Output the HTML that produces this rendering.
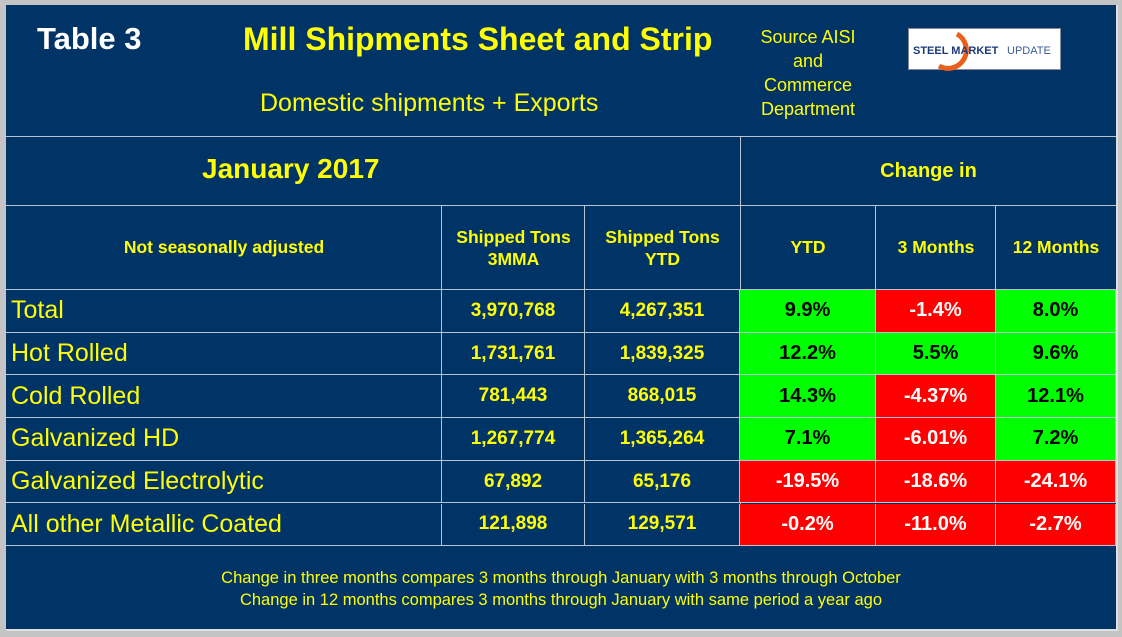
<!DOCTYPE html>
<html><head><meta charset="utf-8"><style>
body{margin:0;width:1122px;height:637px;background:#c4c4c4;position:relative;overflow:hidden;font-family:"Liberation Sans",Arial,sans-serif}
#panel{position:absolute;left:6px;top:5px;width:1110px;height:624px;background:#003366;border-right:2px solid #e0e0e0;border-bottom:2px solid #e0e0e0}
.a{position:absolute;box-sizing:border-box}
.hl{position:absolute;height:1px;background:#b8c4d4}
.vl{position:absolute;width:1px;background:#b8c4d4}
.y{color:#ffff00}
.c{display:flex;align-items:center;justify-content:center;text-align:center}
</style></head><body>
<div id="panel"></div>
<div class="a" style="left:37px;top:21px;color:#fff;font-weight:bold;font-size:31px">Table 3</div>
<div class="a y" style="left:243px;top:21px;font-weight:bold;font-size:32px;white-space:nowrap">Mill Shipments Sheet and Strip</div>
<div class="a y" style="left:260px;top:89px;font-size:25px;white-space:nowrap">Domestic shipments + Exports</div>
<div class="a y" style="left:728px;top:25px;width:160px;text-align:center;font-size:18px;line-height:24px">Source AISI<br>and<br>Commerce<br>Department</div>
<div class="a" style="left:908px;top:28px;width:153px;height:42px;background:#fff;border:1px solid #889">
<svg width="153" height="42" style="position:absolute;left:0;top:0"><path d="M48 5 A17 17 0 1 1 30 37" fill="none" stroke="#e8601c" stroke-width="5"/><text x="4" y="25" font-family="Liberation Sans" font-weight="bold" font-size="11" fill="#1b3a7a">STEEL MARKET</text><text x="98" y="25" font-family="Liberation Sans" font-size="11" fill="#3a5a9a">UPDATE</text></svg></div>
<div class="hl" style="left:6px;top:136px;width:1110px"></div>
<div class="hl" style="left:6px;top:205px;width:1110px"></div>
<div class="hl" style="left:6px;top:289px;width:1110px"></div>
<div class="vl" style="left:740px;top:136px;height:410px"></div>
<div class="vl" style="left:441px;top:205px;height:85px"></div>
<div class="vl" style="left:584px;top:205px;height:85px"></div>
<div class="vl" style="left:875px;top:205px;height:85px"></div>
<div class="vl" style="left:995px;top:205px;height:85px"></div>
<div class="a y" style="left:202px;top:153px;font-weight:bold;font-size:28px;white-space:nowrap">January 2017</div>
<div class="a y c" style="left:741px;top:137px;width:375px;height:68px;font-weight:bold;font-size:20px">Change in</div>
<div class="a y c" style="left:6px;top:206px;width:436px;height:83px;font-weight:bold;font-size:17.5px">Not seasonally adjusted</div>
<div class="a y c" style="left:442px;top:206px;width:143px;height:83px;font-weight:bold;font-size:17.5px;line-height:22px">Shipped Tons<br>3MMA</div>
<div class="a y c" style="left:585px;top:206px;width:155px;height:83px;font-weight:bold;font-size:17.5px;line-height:22px">Shipped Tons<br>YTD</div>
<div class="a y c" style="left:740px;top:206px;width:136px;height:83px;font-weight:bold;font-size:17.5px">YTD</div>
<div class="a y c" style="left:876px;top:206px;width:120px;height:83px;font-weight:bold;font-size:17.5px">3 Months</div>
<div class="a y c" style="left:996px;top:206px;width:120px;height:83px;font-weight:bold;font-size:17.5px">12 Months</div>
<div id="rows"></div>
<div class="a y" style="left:6px;top:567px;width:1110px;text-align:center;font-size:16.5px;line-height:22px">Change in three months compares 3 months through January with 3 months through October<br>Change in 12 months compares 3 months through January with same period a year ago</div>
<script>
const categories=["Total","Hot Rolled","Cold Rolled","Galvanized HD","Galvanized Electrolytic","All other Metallic Coated"];
const tons3mma=["3,970,768","1,731,761","781,443","1,267,774","67,892","121,898"];
const tonsYtd=["4,267,351","1,839,325","868,015","1,365,264","65,176","129,571"];
const chgYtd=[9.9,12.2,14.3,7.1,-19.5,-0.2];
const chg3m=["-1.4%","5.5%","-4.37%","-6.01%","-18.6%","-11.0%"];
const chg12m=[8.0,9.6,12.1,7.2,-24.1,-2.7];
const root=document.getElementById('rows');
const top0=290,rh=42.7;
function cell(x,w,y,txt,bg,col,fs,bold,left,name){
  const d=document.createElement('div');
  d.className='a c';
  d.style.cssText=`left:${x}px;top:${y}px;width:${w}px;height:${rh}px;background:${bg};color:${col};font-size:${fs}px;font-weight:${bold?'bold':'normal'};${left?'justify-content:flex-start;padding-left:5px;':''}border-right:1px solid #b8c4d4;border-bottom:1px solid #b8c4d4;white-space:nowrap`;
  d.textContent=txt;
  
  
  root.appendChild(d);
}
function pc(v){return typeof v==='string'?v:v.toFixed(1)+'%';}
function num(v){return typeof v==='string'?parseFloat(v):v;}
categories.forEach((c,i)=>{
  const y=top0+i*rh;
  cell(6,436,y,c,'#003366','#ffff00',25,false,true,'row-label');
  cell(442,143,y,tons3mma[i],'#003366','#ffff00',19,true,false,'tons-3mma-cell');
  cell(585,155,y,tonsYtd[i],'#003366','#ffff00',19,true,false,'tons-ytd-cell');
  [[chgYtd,740,136,'change-ytd-cell'],[chg3m,876,120,'change-3m-cell'],[chg12m,996,120,'change-12m-cell']].forEach(([arr,x,w,n])=>{
    const neg=num(arr[i])<0;
    cell(x,w,y,pc(arr[i]),neg?'#ff0000':'#00ff00',neg?'#ffffff':'#000000',20,true,false,n);
  });
});
</script>
</body></html>
